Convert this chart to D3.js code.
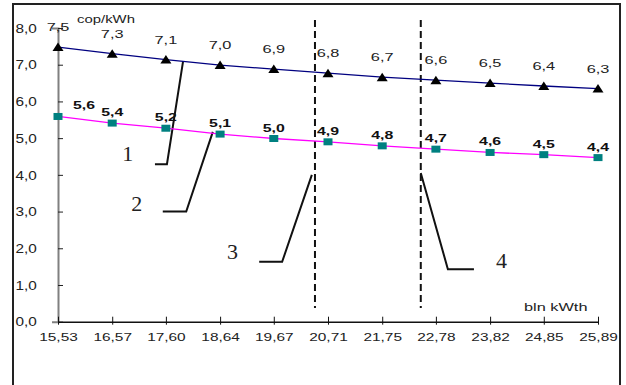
<!DOCTYPE html>
<html>
<head>
<meta charset="utf-8">
<script src="https://cdn.jsdelivr.net/npm/d3@7"></script>
<style>
  body { margin: 0; background: #fff; }
  text { font-family: "Liberation Sans", Arial, sans-serif; fill: #222; }
</style>
</head>
<body>
<div id="chart"></div>
<script>
// x categories (bln kWth)
const xValues = [15.53, 16.57, 17.60, 18.64, 19.67, 20.71, 21.75, 22.78, 23.82, 24.85, 25.89];
const xLabels = ["15,53", "16,57", "17,60", "18,64", "19,67", "20,71", "21,75", "22,78", "23,82", "24,85", "25,89"];

// upper series (triangles) and its printed labels
const copUpper = [7.48, 7.30, 7.14, 6.99, 6.88, 6.77, 6.66, 6.58, 6.50, 6.42, 6.35];
const copUpperLabels = ["7,5", "7,3", "7,1", "7,0", "6,9", "6,8", "6,7", "6,6", "6,5", "6,4", "6,3"];

// lower series (squares) and its printed labels
const copLower = [5.59, 5.41, 5.27, 5.11, 4.99, 4.90, 4.79, 4.70, 4.61, 4.55, 4.47];
const copLowerLabels = ["5,6", "5,4", "5,2", "5,1", "5,0", "4,9", "4,8", "4,7", "4,6", "4,5", "4,4"];

// y ticks
const yTicks = [0, 1, 2, 3, 4, 5, 6, 7, 8];

// dashed vertical markers (x in bln kWth)
const dashedX = [20.46, 22.49];

// numbered callouts: label position and leader line, in data units
const callouts = [
  {name: "1", at: [16.87, 4.6],  path: [[17.39, 4.29], [17.62, 4.29], [17.93, 7.10]]},
  {name: "2", at: [17.04, 3.23], path: [[17.54, 3.0],  [17.99, 3.0],  [18.50, 5.17]]},
  {name: "3", at: [18.88, 1.93], path: [[19.39, 1.63], [19.83, 1.63], [20.40, 4.0]]},
  {name: "4", at: [24.04, 1.68], path: [[22.49, 4.05], [23.01, 1.43], [23.51, 1.43]]}
];

const width = 626, height = 385;
const svg = d3.select("#chart").append("svg")
  .attr("width", width)
  .attr("height", height);

// outer frame
svg.append("rect")
  .attr("x", 13).attr("y", 4)
  .attr("width", 607).attr("height", 390)
  .attr("fill", "none")
  .attr("stroke", "#222")
  .attr("stroke-width", 2);

const x = d3.scaleLinear().domain([15.53, 25.89]).range([58, 598]);
const y = d3.scaleLinear().domain([0, 8]).range([321.7, 28]);

const fmt = v => v.toFixed(1).replace(".", ",");

// stretched text helper (the original is wide)
function label(g, tx, ty, str, opts = {}) {
  return g.append("text")
    .attr("transform", `translate(${tx},${ty}) scale(${opts.sx || 1.35},1)`)
    .attr("text-anchor", opts.anchor || "middle")
    .style("font-size", (opts.size || 11.5) + "px")
    .style("font-weight", opts.bold ? "bold" : null)
    .text(str);
}

// y axis
const yAxis = svg.append("g")
  .attr("transform", `translate(${x(15.53)},0)`)
  .call(d3.axisLeft(y).tickValues(yTicks).tickFormat(fmt).tickSize(6));
yAxis.select(".domain").attr("stroke", "#808080").attr("stroke-width", 2);
yAxis.selectAll(".tick line").attr("x2", 5).attr("stroke", "#222");
yAxis.selectAll(".tick text")
  .attr("x", -18)
  .attr("transform", "scale(1.18,1)")
  .style("font-size", "13px")
  .style("font-family", "'Liberation Sans', Arial, sans-serif")
  .attr("fill", "#222");

// x axis
const xAxis = svg.append("g")
  .attr("transform", `translate(0,${y(0)})`)
  .call(d3.axisBottom(x).tickValues(xValues).tickFormat((d, i) => xLabels[i]).tickSize(3).tickSizeOuter(0));
xAxis.select(".domain").attr("stroke", "#111").attr("stroke-width", 1.5);
xAxis.selectAll(".tick line").attr("y1", -5).attr("stroke", "#111");
xAxis.selectAll(".tick text")
  .attr("y", 11)
  .attr("transform", "scale(1.34,1)")
  .style("font-size", "11.5px")
  .style("font-family", "'Liberation Sans', Arial, sans-serif")
  .attr("fill", "#222");

// axis titles
label(svg, 77, 23, "cop/kWh", {anchor: "start", size: 10.5, sx: 1.42});
label(svg, 524, 311, "bln kWth", {anchor: "start", size: 11.5, sx: 1.42});

// dashed vertical lines
svg.selectAll(".dash")
  .data(dashedX)
  .join("line")
  .attr("class", "dash")
  .attr("x1", d => x(d)).attr("x2", d => x(d))
  .attr("y1", y(8.22)).attr("y2", y(0.37))
  .attr("stroke", "#111")
  .attr("stroke-width", 2)
  .attr("stroke-dasharray", "7,4");

// leader lines and numbers
const line = d3.line().x(d => x(d[0])).y(d => y(d[1]));
svg.selectAll(".leader")
  .data(callouts)
  .join("path")
  .attr("class", "leader")
  .attr("d", d => line(d.path))
  .attr("fill", "none")
  .attr("stroke", "#111")
  .attr("stroke-width", 2);
svg.selectAll(".callout")
  .data(callouts)
  .join("text")
  .attr("class", "callout")
  .attr("x", d => x(d.at[0]))
  .attr("y", d => y(d.at[1]) + 8)
  .attr("text-anchor", "middle")
  .style("font-family", "'Liberation Serif', 'Times New Roman', serif")
  .style("font-size", "22px")
  .text(d => d.name);

// series lines
const seriesLine = vals => d3.line()
  .x((d, i) => x(xValues[i]))
  .y(d => y(d))(vals);

svg.append("path")
  .attr("d", seriesLine(copUpper))
  .attr("fill", "none")
  .attr("stroke", "#000080")
  .attr("stroke-width", 1.3);

svg.append("path")
  .attr("d", seriesLine(copLower))
  .attr("fill", "none")
  .attr("stroke", "#ff00ff")
  .attr("stroke-width", 1.3);

// triangles
svg.selectAll(".tri")
  .data(copUpper)
  .join("path")
  .attr("class", "tri")
  .attr("d", (d, i) => {
    const cx = x(xValues[i]), cy = y(d);
    return `M${cx - 5.5},${cy + 4}L${cx + 5.5},${cy + 4}L${cx},${cy - 4.5}Z`;
  })
  .attr("fill", "#000");

// squares
svg.selectAll(".sq")
  .data(copLower)
  .join("rect")
  .attr("class", "sq")
  .attr("x", (d, i) => x(xValues[i]) - 4.5)
  .attr("y", d => y(d) - 3.5)
  .attr("width", 9)
  .attr("height", 7)
  .attr("fill", "#008080");

// value labels
copUpper.forEach((v, i) => {
  label(svg, x(xValues[i]), y(v) - 16, copUpperLabels[i], {size: 11.5, sx: 1.42});
});
copLower.forEach((v, i) => {
  label(svg, x(xValues[i]) + (i === 0 ? 26 : 0), y(v) - 7, copLowerLabels[i], {size: 11.5, sx: 1.38, bold: true})
    .style("fill", "#111");
});
</script>
</body>
</html>
